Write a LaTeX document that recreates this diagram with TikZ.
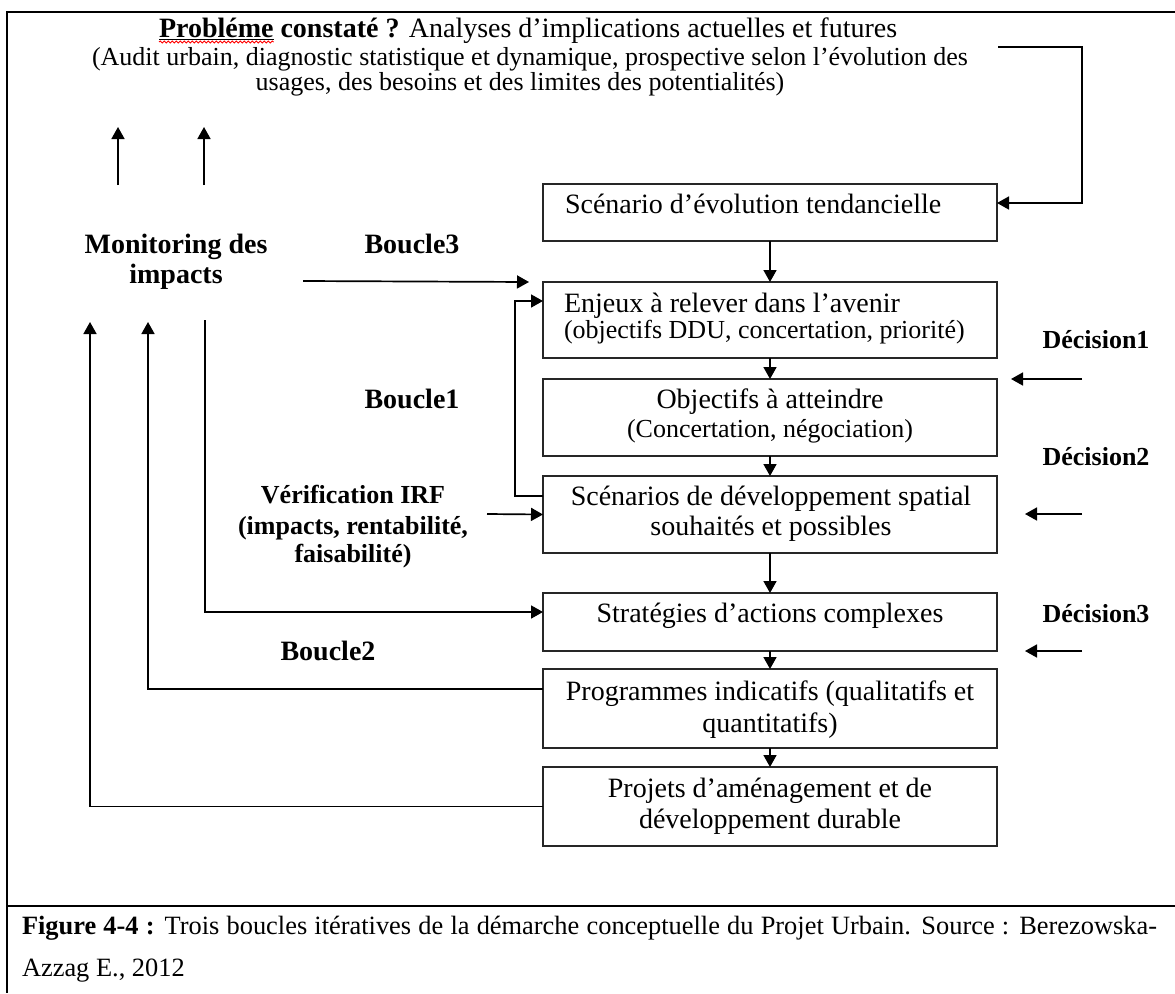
\documentclass[tikz,border=0pt]{standalone}
\usepackage{fontspec}
\setmainfont{Liberation Serif}
\usetikzlibrary{arrows.meta,decorations.pathmorphing}

\begin{document}
\begin{tikzpicture}[x=1pt,y=-1pt,
  every node/.style={inner sep=0pt,outer sep=0pt},
  box/.style={draw=black!85,line width=1.8pt,minimum width=454pt},
  big/.style={font=\fontsize{28}{30}\selectfont},
  small/.style={font=\fontsize{26}{28}\selectfont},
  lbl/.style={font=\fontsize{28}{30}\selectfont\bfseries},
  slbl/.style={font=\fontsize{26}{28}\selectfont\bfseries},
  capt/.style={font=\fontsize{26.4}{30}\selectfont},
  conn/.style={line width=1.7pt,-{Triangle[length=12pt,width=13pt]}},
  frame/.style={line width=2.8pt}]

\useasboundingbox (0,0) rectangle (1175,993);

% outer frame and caption rule
\draw[frame] (1175,12) -- (7,12) -- (7,993);
\draw[frame] (7,906) -- (1175,906);

% title block
\node[lbl,anchor=base west] (pb) at (159,37) {Probléme};
\node[big,anchor=base west] (t1) at ([xshift=7pt]pb.base east)
  {\textbf{constaté ?} Analyses d’implications actuelles et futures};
\draw[line width=1.3pt] ([yshift=-2.5pt]pb.base west) -- ([yshift=-2.5pt]pb.base east);
\draw[red,line width=0.9pt,decorate,decoration={snake,amplitude=1pt,segment length=4pt}]
  ([yshift=-5pt]pb.base west) -- ([yshift=-5pt]pb.base east);
\node[small,anchor=base] (t2) at (530,65)
  {(Audit urbain, diagnostic statistique et dynamique, prospective selon l’évolution des};
\node[small,anchor=base] (t3) at (520,90)
  {usages, des besoins et des limites des potentialités)};

% chain of steps
\node[box,minimum height=57pt] (b1) at (770,212.5) {};
\node[box,minimum height=76pt] (b2) at (770,320) {};
\node[box,minimum height=77pt] (b3) at (770,417.5) {};
\node[box,minimum height=77pt] (b4) at (770,514.5) {};
\node[box,minimum height=58pt] (b5) at (770,622) {};
\node[box,minimum height=79pt] (b6) at (770,708.5) {};
\node[box,minimum height=79pt] (b7) at (770,806.5) {};

\node[big,anchor=base west] (b1a) at (565,213) {Scénario d’évolution tendancielle};
\node[big,anchor=base west] (b2a) at (564,312) {Enjeux à relever dans l’avenir};
\node[small,anchor=base west] (b2b) at (564,338) {(objectifs DDU, concertation, priorité)};
\node[big,anchor=base] (b3a) at (770,408) {Objectifs à atteindre};
\node[small,anchor=base] (b3b) at (770,437) {(Concertation, négociation)};
\node[big,anchor=base] (b4a) at (771,505) {Scénarios de développement spatial};
\node[big,anchor=base] (b4b) at (771,535) {souhaités et possibles};
\node[big,anchor=base] (b5a) at (770,622) {Stratégies d’actions complexes};
\node[big,anchor=base] (b6a) at (770,700) {Programmes indicatifs (qualitatifs et};
\node[big,anchor=base] (b6b) at (770,732) {quantitatifs)};
\node[big,anchor=base] (b7a) at (770,797) {Projets d’aménagement et de};
\node[big,anchor=base] (b7b) at (770,828) {développement durable};

\draw[conn] (b1) -- (b2);
\draw[conn] (b2) -- (b3);
\draw[conn] (b3) -- (b4);
\draw[conn] (b4) -- (b5);
\draw[conn] (b5) -- (b6);
\draw[conn] (b6) -- (b7);

% feedback from the analysis to the trend scenario
\coordinate (tr) at (998,47);
\draw[conn] (tr) -- (1082,47) |- ([yshift=9.5pt]b1.east);

% left-hand labels
\node[lbl,anchor=base] (mon1) at (176,253) {Monitoring des};
\node[lbl,anchor=base] (mon2) at (176,283) {impacts};
\node[lbl,anchor=base] (bc3) at (412,253) {Boucle3};
\node[lbl,anchor=base] (bc1) at (412,408) {Boucle1};
\node[lbl,anchor=base] (bc2) at (328,660) {Boucle2};
\node[slbl,anchor=base] (vf1) at (353,503) {Vérification IRF};
\node[slbl,anchor=base] (vf2) at (353,534) {(impacts, rentabilité,};
\node[slbl,anchor=base] (vf3) at (353,562) {faisabilité)};

% decisions
\node[slbl,anchor=base] (d1) at (1096,348) {Décision1};
\node[slbl,anchor=base] (d2) at (1096,465) {Décision2};
\node[slbl,anchor=base] (d3) at (1096,622) {Décision3};
\coordinate (d1s) at (1082,379); \coordinate (d1e) at (1011,379);
\coordinate (d2s) at (1082,514); \coordinate (d2e) at (1025,514);
\coordinate (d3s) at (1082,651); \coordinate (d3e) at (1025,651);
\draw[conn] (d1s) -- (d1e);
\draw[conn] (d2s) -- (d2e);
\draw[conn] (d3s) -- (d3e);

% loops
\coordinate (m3) at (303,281);
\draw[conn] (m3) -- ([xshift=-14pt]b2.north west);
\draw[conn] ([yshift=18.5pt]b4.west) -- ++(-28,0) |- ([yshift=19pt]b2.west);
\coordinate (vf) at (487,514);
\draw[conn] (vf) -- (b4.west);

\coordinate (mc) at (205,320);
\coordinate (mb) at (148,322);
\coordinate (ma) at (90,322);
\draw[conn] (mc) |- ([yshift=10pt]b5.west);
\draw[conn] ([yshift=19.5pt]b6.west) -| (mb);
\draw[conn] (b7.west) -| (ma);

% arrows towards the analysis
\coordinate (u1s) at (118,185); \coordinate (u1e) at (118,127);
\coordinate (u2s) at (204,185); \coordinate (u2e) at (204,127);
\draw[conn] (u1s) -- (u1e);
\draw[conn] (u2s) -- (u2e);

% caption
\node[capt,anchor=base west] (cap1) at (22,934)
  {\makebox[1135pt][s]{\textbf{Figure 4-4 :} Trois boucles itératives de la démarche conceptuelle du Projet Urbain. Source : Berezowska-}};
\node[capt,anchor=base west] (cap2) at (22,976) {Azzag E., 2012};
\end{tikzpicture}
\end{document}
